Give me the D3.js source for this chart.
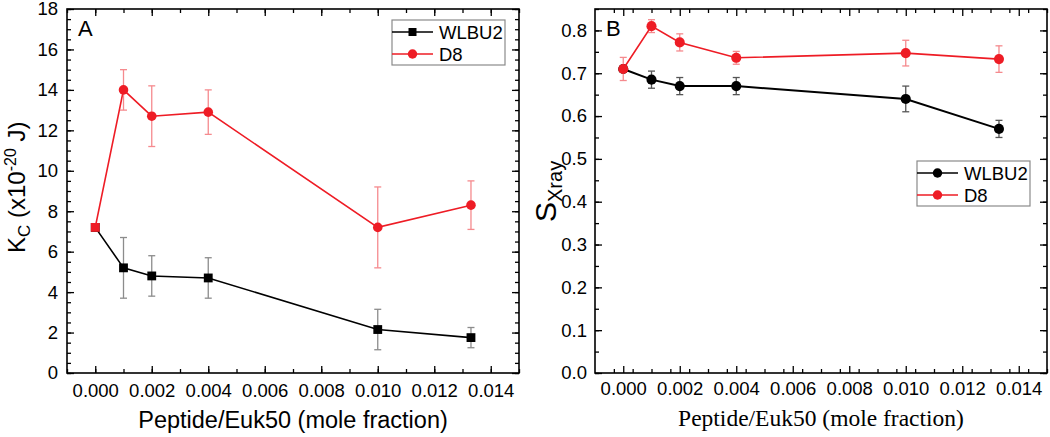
<!DOCTYPE html>
<html><head><meta charset="utf-8">
<script src="https://cdn.jsdelivr.net/npm/d3@7"></script>
<style>body{margin:0;background:#fff}</style>
</head><body>
<svg id="c" width="1050" height="437"></svg>
<script>
// ---- data ----
const xVals = [0, 0.001, 0.002, 0.004, 0.010, 0.0133];
const kcWLBU2 = [7.2, 5.2, 4.8, 4.7, 2.15, 1.75];
const kcWLBU2Err = [0, 1.5, 1.0, 1.0, 1.0, 0.5];
const kcD8 = [7.2, 14.0, 12.7, 12.9, 7.2, 8.3];
const kcD8Err = [0, 1.0, 1.5, 1.1, 2.0, 1.2];
const kcD8Symbols = ["square", "circle", "circle", "circle", "circle", "circle"];
const sWLBU2 = [0.71, 0.685, 0.67, 0.67, 0.64, 0.57];
const sWLBU2Err = [0, 0.02, 0.02, 0.02, 0.03, 0.02];
const sD8 = [0.71, 0.81, 0.772, 0.736, 0.747, 0.733];
const sD8Err = [0.027, 0.015, 0.02, 0.015, 0.03, 0.031];
const xTicks = [0, 0.002, 0.004, 0.006, 0.008, 0.010, 0.012, 0.014];
const kcTicks = [0, 2, 4, 6, 8, 10, 12, 14, 16, 18];
const sTicks = [0, 0.1, 0.2, 0.3, 0.4, 0.5, 0.6, 0.7, 0.8];
const seriesNames = ["WLBU2", "D8"];

const RED = "#ee1c25";
const SANS = "'Liberation Sans', Arial, sans-serif";
const SERIF = "'Liberation Serif', 'Times New Roman', serif";
const svg = d3.select("#c");

function range(a, b, step) { const r = []; for (let v = a; v <= b + step * 1e-6; v += step) r.push(+v.toFixed(6)); return r; }

function panel(cfg) {
  const g = svg.append("g");
  const x = d3.scaleLinear().domain([-0.001, 0.015]).range([cfg.left, cfg.right]);
  const y = d3.scaleLinear().domain(cfg.yDomain).range([cfg.bottom, cfg.top]);

  function drawAxis(axis, transform, fmt, size, pad, fontFamily) {
    const a = g.append("g").attr("transform", transform)
      .call(axis.tickSize(size).tickSizeOuter(0).tickPadding(pad).tickFormat(fmt));
    a.select(".domain").remove();
    a.selectAll("line").attr("stroke", "#000").attr("stroke-width", 1.3);
    a.selectAll("text").attr("font-family", fontFamily).attr("font-size", 18.5).attr("fill", "#000");
    return a;
  }
  const none = () => "";
  // bottom
  drawAxis(d3.axisBottom(x).tickValues(cfg.xMinor), `translate(0,${cfg.bottom})`, none, -4, 0, SANS);
  drawAxis(d3.axisBottom(x).tickValues(xTicks), `translate(0,${cfg.bottom})`, d3.format(".3f"), -7, cfg.xPad, SANS);
  // top
  drawAxis(d3.axisTop(x).tickValues(cfg.xMinor), `translate(0,${cfg.top})`, none, -4, 0, SANS);
  drawAxis(d3.axisTop(x).tickValues(xTicks), `translate(0,${cfg.top})`, none, -7, 0, SANS);
  // left
  drawAxis(d3.axisLeft(y).tickValues(cfg.yMinor), `translate(${cfg.left},0)`, none, -4, 0, SANS);
  drawAxis(d3.axisLeft(y).tickValues(cfg.yTicks), `translate(${cfg.left},0)`, cfg.yFmt, -7, cfg.yPad, SANS);
  // right
  drawAxis(d3.axisRight(y).tickValues(cfg.yMinor), `translate(${cfg.right},0)`, none, -4, 0, SANS);
  drawAxis(d3.axisRight(y).tickValues(cfg.yTicks), `translate(${cfg.right},0)`, none, -7, 0, SANS);

  g.append("rect").attr("x", cfg.left).attr("y", cfg.top)
    .attr("width", cfg.right - cfg.left).attr("height", cfg.bottom - cfg.top)
    .attr("fill", "none").attr("stroke", "#000").attr("stroke-width", 1.6);

  // series
  cfg.series.forEach(s => {
    const pts = xVals.map((xv, i) => ({ x: xv, y: s.values[i], e: s.err[i], sym: s.symbols[i] }));
    g.append("path").datum(pts)
      .attr("d", d3.line().x(d => x(d.x)).y(d => y(d.y)))
      .attr("fill", "none").attr("stroke", s.color).attr("stroke-width", s.lw);
    const eb = g.append("g").attr("stroke", s.errColor).attr("stroke-width", 1.3);
    pts.filter(d => d.e > 0).forEach(d => {
      const cx = x(d.x), y1 = y(d.y - d.e), y2 = y(d.y + d.e);
      eb.append("line").attr("x1", cx).attr("x2", cx).attr("y1", y1).attr("y2", y2);
      eb.append("line").attr("x1", cx - 3.5).attr("x2", cx + 3.5).attr("y1", y1).attr("y2", y1);
      eb.append("line").attr("x1", cx - 3.5).attr("x2", cx + 3.5).attr("y1", y2).attr("y2", y2);
    });
    g.selectAll(null).data(pts).enter().append("path")
      .attr("transform", d => `translate(${x(d.x)},${y(d.y)})`)
      .attr("d", d => d3.symbol().type(d.sym === "square" ? d3.symbolSquare : d3.symbolCircle)
        .size(d.sym === "square" ? 78 : s.circleSize)())
      .attr("fill", s.color);
  });

  // legend
  const L = cfg.legend;
  g.append("rect").attr("x", L.x).attr("y", L.y).attr("width", L.w).attr("height", L.h)
    .attr("fill", "#fff").attr("stroke", "#8a8a8a").attr("stroke-width", 1.2);
  cfg.series.forEach((s, i) => {
    const ly = L.y + 12 + i * 22;
    g.append("line").attr("x1", L.x).attr("x2", L.x + 41).attr("y1", ly).attr("y2", ly)
      .attr("stroke", s.color).attr("stroke-width", 1.4);
    g.append("path").attr("transform", `translate(${L.x + 20.5},${ly})`)
      .attr("d", d3.symbol().type(s.legendSym === "square" ? d3.symbolSquare : d3.symbolCircle)
        .size(s.legendSym === "square" ? 64 : 70)())
      .attr("fill", s.color);
    g.append("text").attr("x", L.x + 47).attr("y", ly + 6.5).text(seriesNames[i])
      .attr("font-family", SANS).attr("font-size", 18.5);
  });

  // panel letter
  g.append("text").attr("x", cfg.left + 11).attr("y", 35.5).text(cfg.letter)
    .attr("font-family", SANS).attr("font-size", 22);

  // x title
  g.append("text").attr("x", (cfg.left + cfg.right) / 2).attr("y", cfg.xTitleY)
    .attr("text-anchor", "middle").attr("font-family", cfg.xTitleFont).attr("font-size", cfg.xTitleSize)
    .text("Peptide/Euk50 (mole fraction)");
  return g;
}

const gA = panel({
  left: 67, right: 519, top: 9, bottom: 373,
  yDomain: [0, 18], yTicks: kcTicks, yMinor: range(0, 18, 0.5), yFmt: d3.format("d"), yPad: 9,
  xMinor: range(-0.001, 0.015, 0.001), xPad: 11,
  letter: "A", xTitleY: 428, xTitleFont: SANS, xTitleSize: 23.5,
  legend: { x: 392, y: 20, w: 113, h: 45 },
  series: [
    { values: kcWLBU2, err: kcWLBU2Err, symbols: xVals.map(() => "square"), color: "#000", errColor: "#8c8c8c", lw: 1.6, circleSize: 70, legendSym: "square" },
    { values: kcD8, err: kcD8Err, symbols: kcD8Symbols, color: RED, errColor: "#f58a8e", lw: 1.6, circleSize: 72, legendSym: "circle" }
  ]
});
// y title A
const tA = gA.append("text").attr("transform", "translate(25,253) rotate(-90)")
  .attr("font-family", SANS).attr("font-size", 24).attr("fill", "#000");
tA.append("tspan").text("K");
tA.append("tspan").attr("font-size", 17).attr("dy", 5).text("C");
tA.append("tspan").attr("dy", -5).text(" (x10");
tA.append("tspan").attr("font-size", 16).attr("dy", -9).text("-20");
tA.append("tspan").attr("dy", 9).text(" J)");

const gB = panel({
  left: 595, right: 1047, top: 9, bottom: 373,
  yDomain: [0, 0.85], yTicks: sTicks, yMinor: range(0, 0.85, 0.05), yFmt: d3.format(".1f"), yPad: 8,
  xMinor: range(-0.001, 0.015, 0.002 / 3).filter(v => v > -0.00099), xPad: 9,
  letter: "B", xTitleY: 426, xTitleFont: SERIF, xTitleSize: 23.5,
  legend: { x: 917, y: 161, w: 113, h: 45 },
  series: [
    { values: sWLBU2, err: sWLBU2Err, symbols: xVals.map(() => "circle"), color: "#000", errColor: "#555", lw: 2, circleSize: 80, legendSym: "circle" },
    { values: sD8, err: sD8Err, symbols: xVals.map(() => "circle"), color: RED, errColor: "#f58a8e", lw: 1.6, circleSize: 80, legendSym: "circle" }
  ]
});
const tB = gB.append("text").attr("transform", "translate(556,222) rotate(-90)")
  .attr("font-family", SANS).attr("font-size", 30).attr("fill", "#000");
tB.append("tspan").text("S");
tB.append("tspan").attr("font-size", 20).attr("dy", 6).text("Xray");
</script>
</body></html>
